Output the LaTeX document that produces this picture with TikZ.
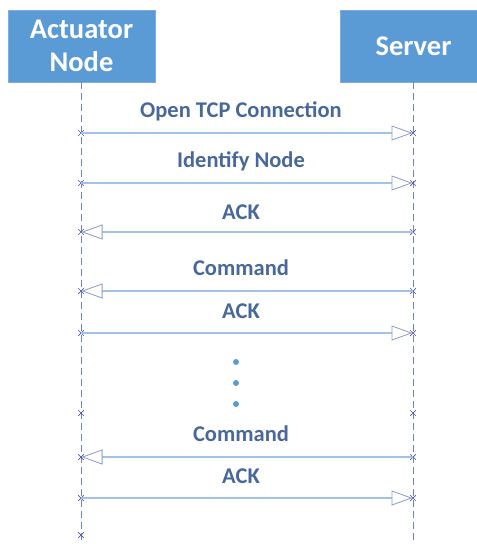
\documentclass[tikz,border=0pt]{standalone}
\usepackage{fontspec}
\setmainfont{Carlito}
\usetikzlibrary{arrows.meta,shapes.misc}
\definecolor{boxblue}{HTML}{5B9BD5}
\definecolor{lblue}{HTML}{A4C2E8}
\definecolor{lifec}{HTML}{7584B4}
\definecolor{crossc}{HTML}{4F55A8}
\definecolor{txtc}{HTML}{48689A}
\definecolor{headc}{HTML}{8C9DC4}
\tikzset{
  actor/.style={fill=boxblue, draw=boxblue!80!white, text=white, font=\fontsize{28.5}{33}\selectfont\bfseries, align=center, minimum width=147pt, minimum height=72pt, inner sep=0pt},
  life/.style={draw=lifec, line width=0.8pt, dash pattern=on 7pt off 4pt},
  msg/.style={draw=lblue, line width=2pt, -{Triangle[open, length=21pt, width=15pt, line width=0.8pt, color=headc, fill=white]}, shorten >=0.5pt},
  lbl/.style={text=txtc, font=\fontsize{22.5}{24}\selectfont\bfseries, inner sep=0pt},
  xm/.style={cross out, draw=crossc, line width=0.7pt, minimum size=5pt, inner sep=0pt},
  dotm/.style={circle, fill=boxblue, minimum size=6pt, inner sep=0pt}
}
\begin{document}
\begin{tikzpicture}[x=1pt,y=-1pt]
\useasboundingbox (0,0) rectangle (477,544);
\begin{scope}
\clip (0,0) rectangle (477,544);
\node[actor] (A) at (81.5,46) {Actuator\\Node};
\node[actor] (S) at (413.5,46) {Server};
\end{scope}
\coordinate (Aend) at (81,540);
\coordinate (Send) at (413,540);
\draw[life] (A.south -| Aend) -- (Aend);
\draw[life] (S.south -| Send) -- (Send);
% message points
\foreach \i/\y in {1/133,2/183,3/232,4/291,5/333,6/413,7/457,8/498,9/535}{
  \coordinate (L\i) at (81,\y);
  \coordinate (R\i) at (413,\y);
}
\foreach \i in {1,...,9}{ \node[xm] (xl\i) at (L\i) {}; }
\foreach \i in {1,...,8}{ \node[xm] (xr\i) at (R\i) {}; }
\draw[msg] (L1) -- (R1);
\draw[msg] (L2) -- (R2);
\draw[msg] (R3) -- (L3);
\draw[msg] (R4) -- (L4);
\draw[msg] (L5) -- (R5);
\draw[msg] (R7) -- (L7);
\draw[msg] (L8) -- (R8);
\node[lbl] (t1) at (241,111) {Open TCP Connection};
\node[lbl] (t2) at (241,161) {Identify Node};
\node[lbl] (t3) at (241,212) {ACK};
\node[lbl] (t4) at (241,268) {Command};
\node[lbl] (t5) at (241,311) {ACK};
\node[lbl] (t6) at (241,434) {Command};
\node[lbl] (t7) at (241,476) {ACK};
\node[dotm] (d1) at (236,362) {};
\node[dotm] (d2) at (236,383) {};
\node[dotm] (d3) at (236,404) {};
\end{tikzpicture}
\end{document}
